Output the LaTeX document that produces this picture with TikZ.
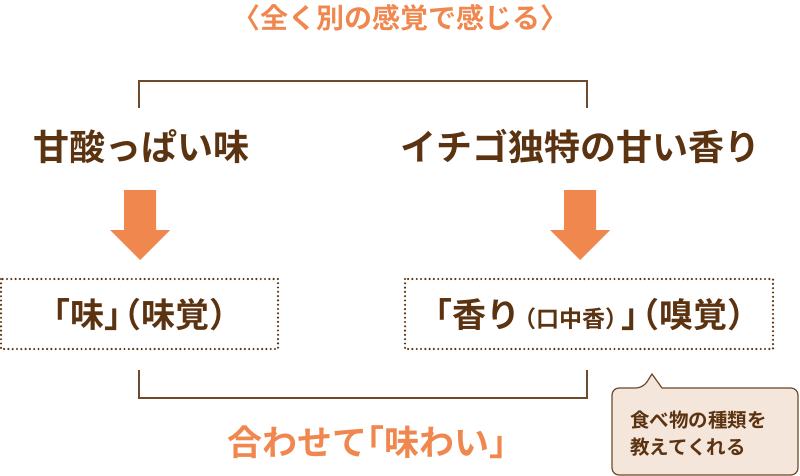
\documentclass[tikz,border=0pt]{standalone}
\usepackage{fontspec}
\setmainfont{Noto Sans CJK JP}
\newfontfamily\jpbold{Noto Sans CJK JP Bold}
\usepackage{tikz}

\definecolor{dbrown}{HTML}{5C3311}
\definecolor{lbrown}{HTML}{6E4A2C}
\definecolor{dorange}{HTML}{F0874F}
\definecolor{cream}{HTML}{F4E6DA}

\tikzset{
  heading/.style={text=dbrown, font=\jpbold\fontsize{36}{40}\selectfont, inner sep=0pt},
  sensebox/.style={draw=dbrown, line width=2.4pt, dash pattern=on 0pt off 4.3pt, line cap=round},
  sensetext/.style={text=dbrown, font=\jpbold\fontsize{34}{38}\selectfont, inner sep=0pt},
  orangetext/.style={text=dorange, font=\jpbold\fontsize{35}{38}\selectfont, inner sep=0pt},
  bracket/.style={draw=lbrown, line width=1.8pt},
  downarrow/.style={fill=dorange, draw=none},
}

\begin{document}
\begin{tikzpicture}[x=1pt,y=-1pt]
    \useasboundingbox (0,0) rectangle (800,476);
    \node[orangetext, font=\jpbold\fontsize{28}{32}\selectfont] (title) at (400,18) {〈全く別の感覚で感じる〉};
    % top bracket
    \coordinate (tl) at (139,108); \coordinate (tr) at (587,108);
    \draw[bracket] (tl) |- (587,81) -- (tr);
    \node[heading] (taste) at (141,147) {甘酸っぱい味};
    \node[heading] (aroma) at (580,147) {イチゴ独特の甘い香り};
    % arrows
    \draw[downarrow] (124,190) -- (156,190) -- (156,230) -- (170,230) -- (140,260) -- (110,230) -- (124,230) -- cycle;
    \draw[downarrow] (564,190) -- (596,190) -- (596,230) -- (610,230) -- (580,260) -- (550,230) -- (564,230) -- cycle;
    \draw[sensebox] (1,279) rectangle (278,349);
    \node[sensetext] (mikaku) at (140,315) {「味」\kern-.9em（味覚）};
    \draw[sensebox] (405,279) rectangle (773,349);
    \node[sensetext] (kyukaku) at (590,315)
      {「香り{\fontsize{23}{24}\selectfont\kern-.3em（口中香）\kern-.3em}」\kern-.9em（嗅覚）};
    % bottom bracket
    \coordinate (bl) at (139,370); \coordinate (br) at (587,370);
    \draw[bracket] (bl) |- (587,398) -- (br);
    \node[orangetext] (ajiwai) at (376,442) {合わせて\kern-.5em「味わい」};
    % callout
    \draw[draw=lbrown, fill=cream, line width=1.2pt, rounded corners=7pt]
      (612,388) -- (643,388) [sharp corners] -- (652,374) -- (662,388) [rounded corners=7pt] -- (798,388)
      -- (798,475) -- (612,475) -- cycle;
    \node[text=dbrown, font=\jpbold\fontsize{19.5}{27}\selectfont, align=left, anchor=west, inner sep=0pt]
      (hint) at (630,433.5) {食べ物の種類を\\教えてくれる};
  \end{tikzpicture}
\end{document}
